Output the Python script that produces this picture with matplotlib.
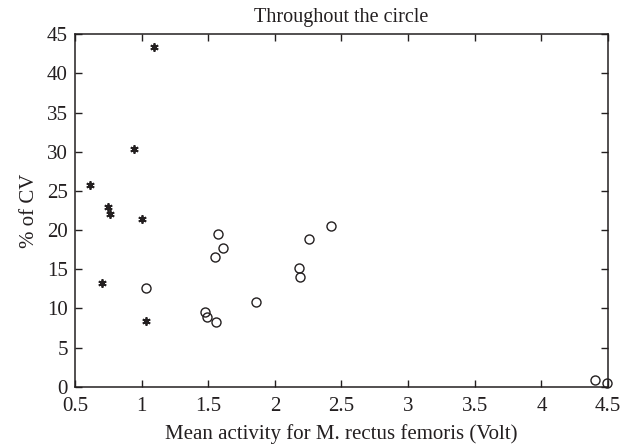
import numpy as np
import matplotlib.pyplot as plt

plt.rcParams['font.family'] = ['Liberation Serif', 'DejaVu Serif']

# group 1 (asterisks)
star_x = [1.09, 0.94, 0.61, 0.75, 0.76, 1.00, 0.70, 1.03]
star_y = [43.4, 30.4, 25.7, 23.0, 22.0, 21.4, 13.3, 8.4]

# group 2 (open circles)
circ_x = [1.03, 1.475, 1.49, 1.56, 1.55, 1.575, 1.61, 1.86, 2.18, 2.19, 2.26, 2.42, 4.40, 4.49]
circ_y = [12.6, 9.5, 8.9, 8.3, 16.5, 19.5, 17.7, 10.8, 15.1, 14.0, 18.9, 20.5, 0.9, 0.45]

xticks = [0.5, 1, 1.5, 2, 2.5, 3, 3.5, 4, 4.5]
yticks = [0, 5, 10, 15, 20, 25, 30, 35, 40, 45]

ink = '#231f20'

fig = plt.figure(figsize=(6.35, 4.46), dpi=100)
ax = fig.add_axes([0.118, 0.133, 0.8395, 0.79])

ax.plot(star_x, star_y, linestyle='none', marker=(6, 2, 0), markersize=6,
        color=ink, markeredgewidth=1.3, clip_on=False)
ax.plot(circ_x, circ_y, linestyle='none', marker='o', markersize=6.5,
        markerfacecolor='none', markeredgecolor=ink, markeredgewidth=1.0,
        clip_on=False)

ax.set_xlim(0.5, 4.5)
ax.set_ylim(0, 45)
ax.set_xticks(xticks)
ax.set_xticklabels(['0.5', '1', '1.5', '2', '2.5', '3', '3.5', '4', '4.5'])
ax.set_yticks(yticks)
ax.tick_params(direction='in', length=5, width=1, top=True, right=True,
               labelsize=15, colors=ink)
ax.tick_params(axis='x', pad=7.5)
ax.tick_params(axis='y', pad=5)
for s in ax.spines.values():
    s.set_linewidth(1.1)
    s.set_color(ink)

ax.set_title('Throughout the circle', fontsize=14.5, color=ink, pad=9)
ax.set_xlabel('Mean activity for M. rectus femoris (Volt)', fontsize=15, color=ink, labelpad=6)
ax.set_ylabel('% of CV', fontsize=15, color=ink, labelpad=6)

fig.savefig('out.png', dpi=100)
